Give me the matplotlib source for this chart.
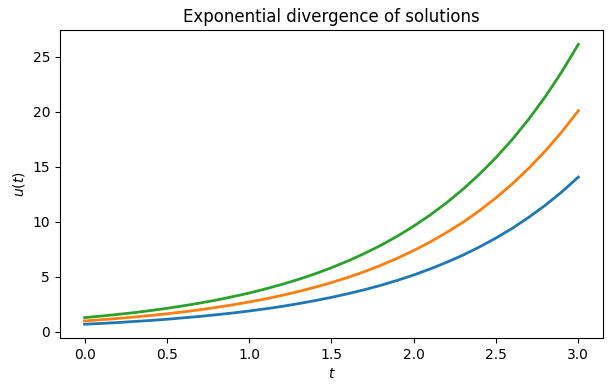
import numpy as np
import matplotlib
matplotlib.use("Agg")
import matplotlib.pyplot as plt

# sample times (t axis)
t = np.round(np.arange(0, 3.01, 0.1), 1)

# u(t), every 0.1 in t
u_blue = [0.70, 0.77, 0.85, 0.95, 1.04, 1.15, 1.28, 1.41, 1.56, 1.72, 1.90,
          2.10, 2.32, 2.57, 2.84, 3.14, 3.47, 3.83, 4.23, 4.68, 5.17,
          5.72, 6.32, 6.98, 7.72, 8.53, 9.42, 10.42, 11.51, 12.72, 14.06]
u_orange = [1.00, 1.11, 1.22, 1.35, 1.49, 1.65, 1.82, 2.01, 2.23, 2.46, 2.72,
            3.00, 3.32, 3.67, 4.06, 4.48, 4.95, 5.47, 6.05, 6.69, 7.39,
            8.17, 9.03, 9.97, 11.02, 12.18, 13.46, 14.88, 16.45, 18.17, 20.09]
u_green = [1.30, 1.44, 1.59, 1.75, 1.94, 2.14, 2.37, 2.62, 2.89, 3.20, 3.53,
           3.91, 4.32, 4.77, 5.27, 5.83, 6.44, 7.12, 7.86, 8.69, 9.61,
           10.62, 11.73, 12.97, 14.33, 15.84, 17.50, 19.34, 21.38, 23.63, 26.11]

fig, ax = plt.subplots(figsize=(6.11, 3.91), dpi=100)
fig.subplots_adjust(left=0.098, right=0.987, top=0.9225, bottom=0.135)

for u in (u_blue, u_orange, u_green):
    ax.plot(t, u, linewidth=2)

ax.set_title("Exponential divergence of solutions")
ax.set_xlabel("$t$")
ax.set_ylabel("$u(t)$")

fig.savefig("out.png", dpi=100)
